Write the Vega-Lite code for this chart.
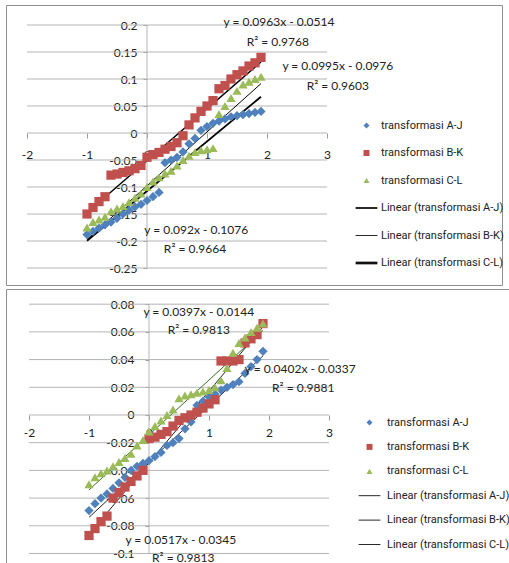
{
  "$schema": "https://vega.github.io/schema/vega-lite/v6.json",
  "padding": {"left": 5, "top": 4, "right": 0, "bottom": 0},
  "background": "white",
  "spacing": 2,
  "config": {
    "view": {"stroke": "#8f8f8f", "strokeWidth": 1, "fill": "white"},
    "font": "Lato",
    "text": {"font": "Lato"},
    "axis": {"labelFont": "Lato", "labelFontSize": 12, "labelColor": "#222", "labelOverlap": false, "labelSeparation": 0, "labelFlush": false, "grid": false, "domain": false, "tickColor": "#9a9a9a"},
    "axisY": {"labelOverlap": false},
    "axisQuantitative": {"labelOverlap": false}
  },
  "datasets": {
    "topPts": [
      {"x": -1.0, "y": -0.188, "s": "transformasi A-J"}, {"x": -0.9, "y": -0.182, "s": "transformasi A-J"}, {"x": -0.8, "y": -0.176, "s": "transformasi A-J"}, {"x": -0.7, "y": -0.170, "s": "transformasi A-J"}, {"x": -0.6, "y": -0.165, "s": "transformasi A-J"}, {"x": -0.5, "y": -0.158, "s": "transformasi A-J"}, {"x": -0.4, "y": -0.150, "s": "transformasi A-J"}, {"x": -0.3, "y": -0.143, "s": "transformasi A-J"}, {"x": -0.2, "y": -0.137, "s": "transformasi A-J"}, {"x": -0.1, "y": -0.132, "s": "transformasi A-J"}, {"x": 0.0, "y": -0.125, "s": "transformasi A-J"}, {"x": 0.1, "y": -0.118, "s": "transformasi A-J"}, {"x": 0.2, "y": -0.110, "s": "transformasi A-J"}, {"x": 0.3, "y": -0.055, "s": "transformasi A-J"}, {"x": 0.4, "y": -0.050, "s": "transformasi A-J"}, {"x": 0.5, "y": -0.045, "s": "transformasi A-J"}, {"x": 0.6, "y": -0.035, "s": "transformasi A-J"}, {"x": 0.7, "y": -0.020, "s": "transformasi A-J"}, {"x": 0.8, "y": -0.010, "s": "transformasi A-J"}, {"x": 0.9, "y": 0.005, "s": "transformasi A-J"}, {"x": 1.0, "y": 0.012, "s": "transformasi A-J"}, {"x": 1.1, "y": 0.018, "s": "transformasi A-J"}, {"x": 1.2, "y": 0.022, "s": "transformasi A-J"}, {"x": 1.3, "y": 0.026, "s": "transformasi A-J"}, {"x": 1.4, "y": 0.030, "s": "transformasi A-J"}, {"x": 1.5, "y": 0.032, "s": "transformasi A-J"}, {"x": 1.6, "y": 0.034, "s": "transformasi A-J"}, {"x": 1.7, "y": 0.036, "s": "transformasi A-J"}, {"x": 1.8, "y": 0.038, "s": "transformasi A-J"}, {"x": 1.9, "y": 0.040, "s": "transformasi A-J"},
      {"x": -1.0, "y": -0.150, "s": "transformasi B-K"}, {"x": -0.9, "y": -0.138, "s": "transformasi B-K"}, {"x": -0.8, "y": -0.127, "s": "transformasi B-K"}, {"x": -0.7, "y": -0.118, "s": "transformasi B-K"}, {"x": -0.6, "y": -0.078, "s": "transformasi B-K"}, {"x": -0.5, "y": -0.076, "s": "transformasi B-K"}, {"x": -0.4, "y": -0.073, "s": "transformasi B-K"}, {"x": -0.3, "y": -0.070, "s": "transformasi B-K"}, {"x": -0.2, "y": -0.066, "s": "transformasi B-K"}, {"x": -0.1, "y": -0.060, "s": "transformasi B-K"}, {"x": 0.0, "y": -0.045, "s": "transformasi B-K"}, {"x": 0.1, "y": -0.040, "s": "transformasi B-K"}, {"x": 0.2, "y": -0.036, "s": "transformasi B-K"}, {"x": 0.3, "y": -0.030, "s": "transformasi B-K"}, {"x": 0.4, "y": -0.025, "s": "transformasi B-K"}, {"x": 0.5, "y": -0.018, "s": "transformasi B-K"}, {"x": 0.6, "y": -0.005, "s": "transformasi B-K"}, {"x": 0.7, "y": 0.015, "s": "transformasi B-K"}, {"x": 0.8, "y": 0.028, "s": "transformasi B-K"}, {"x": 0.9, "y": 0.040, "s": "transformasi B-K"}, {"x": 1.0, "y": 0.050, "s": "transformasi B-K"}, {"x": 1.1, "y": 0.060, "s": "transformasi B-K"}, {"x": 1.2, "y": 0.082, "s": "transformasi B-K"}, {"x": 1.3, "y": 0.088, "s": "transformasi B-K"}, {"x": 1.4, "y": 0.100, "s": "transformasi B-K"}, {"x": 1.5, "y": 0.108, "s": "transformasi B-K"}, {"x": 1.6, "y": 0.115, "s": "transformasi B-K"}, {"x": 1.7, "y": 0.124, "s": "transformasi B-K"}, {"x": 1.8, "y": 0.130, "s": "transformasi B-K"}, {"x": 1.9, "y": 0.140, "s": "transformasi B-K"},
      {"x": -1.0, "y": -0.175, "s": "transformasi C-L"}, {"x": -0.9, "y": -0.165, "s": "transformasi C-L"}, {"x": -0.8, "y": -0.160, "s": "transformasi C-L"}, {"x": -0.7, "y": -0.155, "s": "transformasi C-L"}, {"x": -0.6, "y": -0.145, "s": "transformasi C-L"}, {"x": -0.5, "y": -0.140, "s": "transformasi C-L"}, {"x": -0.4, "y": -0.135, "s": "transformasi C-L"}, {"x": -0.3, "y": -0.128, "s": "transformasi C-L"}, {"x": -0.2, "y": -0.120, "s": "transformasi C-L"}, {"x": -0.1, "y": -0.112, "s": "transformasi C-L"}, {"x": 0.0, "y": -0.100, "s": "transformasi C-L"}, {"x": 0.1, "y": -0.090, "s": "transformasi C-L"}, {"x": 0.2, "y": -0.082, "s": "transformasi C-L"}, {"x": 0.3, "y": -0.075, "s": "transformasi C-L"}, {"x": 0.4, "y": -0.070, "s": "transformasi C-L"}, {"x": 0.5, "y": -0.060, "s": "transformasi C-L"}, {"x": 0.6, "y": -0.050, "s": "transformasi C-L"}, {"x": 0.7, "y": -0.042, "s": "transformasi C-L"}, {"x": 0.8, "y": -0.035, "s": "transformasi C-L"}, {"x": 0.9, "y": -0.032, "s": "transformasi C-L"}, {"x": 1.0, "y": -0.030, "s": "transformasi C-L"}, {"x": 1.1, "y": -0.028, "s": "transformasi C-L"}, {"x": 1.2, "y": 0.035, "s": "transformasi C-L"}, {"x": 1.3, "y": 0.050, "s": "transformasi C-L"}, {"x": 1.4, "y": 0.065, "s": "transformasi C-L"}, {"x": 1.5, "y": 0.078, "s": "transformasi C-L"}, {"x": 1.6, "y": 0.090, "s": "transformasi C-L"}, {"x": 1.7, "y": 0.095, "s": "transformasi C-L"}, {"x": 1.8, "y": 0.100, "s": "transformasi C-L"}, {"x": 1.9, "y": 0.104, "s": "transformasi C-L"}
    ],
    "botPts": [
      {"x": -1.0, "y": -0.069, "s": "transformasi A-J"}, {"x": -0.9, "y": -0.064, "s": "transformasi A-J"}, {"x": -0.8, "y": -0.060, "s": "transformasi A-J"}, {"x": -0.7, "y": -0.057, "s": "transformasi A-J"}, {"x": -0.6, "y": -0.053, "s": "transformasi A-J"}, {"x": -0.5, "y": -0.049, "s": "transformasi A-J"}, {"x": -0.4, "y": -0.045, "s": "transformasi A-J"}, {"x": -0.3, "y": -0.040, "s": "transformasi A-J"}, {"x": -0.2, "y": -0.037, "s": "transformasi A-J"}, {"x": -0.1, "y": -0.035, "s": "transformasi A-J"}, {"x": 0.0, "y": -0.033, "s": "transformasi A-J"}, {"x": 0.1, "y": -0.030, "s": "transformasi A-J"}, {"x": 0.2, "y": -0.027, "s": "transformasi A-J"}, {"x": 0.3, "y": -0.022, "s": "transformasi A-J"}, {"x": 0.4, "y": -0.020, "s": "transformasi A-J"}, {"x": 0.5, "y": -0.017, "s": "transformasi A-J"}, {"x": 0.6, "y": -0.010, "s": "transformasi A-J"}, {"x": 0.7, "y": -0.005, "s": "transformasi A-J"}, {"x": 0.8, "y": 0.007, "s": "transformasi A-J"}, {"x": 0.9, "y": 0.010, "s": "transformasi A-J"}, {"x": 1.0, "y": 0.013, "s": "transformasi A-J"}, {"x": 1.1, "y": 0.015, "s": "transformasi A-J"}, {"x": 1.2, "y": 0.018, "s": "transformasi A-J"}, {"x": 1.3, "y": 0.020, "s": "transformasi A-J"}, {"x": 1.4, "y": 0.022, "s": "transformasi A-J"}, {"x": 1.5, "y": 0.024, "s": "transformasi A-J"}, {"x": 1.6, "y": 0.030, "s": "transformasi A-J"}, {"x": 1.7, "y": 0.035, "s": "transformasi A-J"}, {"x": 1.8, "y": 0.040, "s": "transformasi A-J"}, {"x": 1.9, "y": 0.046, "s": "transformasi A-J"},
      {"x": -1.0, "y": -0.087, "s": "transformasi B-K"}, {"x": -0.9, "y": -0.082, "s": "transformasi B-K"}, {"x": -0.8, "y": -0.077, "s": "transformasi B-K"}, {"x": -0.7, "y": -0.073, "s": "transformasi B-K"}, {"x": -0.6, "y": -0.060, "s": "transformasi B-K"}, {"x": -0.5, "y": -0.056, "s": "transformasi B-K"}, {"x": -0.4, "y": -0.052, "s": "transformasi B-K"}, {"x": -0.3, "y": -0.048, "s": "transformasi B-K"}, {"x": -0.2, "y": -0.044, "s": "transformasi B-K"}, {"x": -0.1, "y": -0.040, "s": "transformasi B-K"}, {"x": 0.0, "y": -0.017, "s": "transformasi B-K"}, {"x": 0.1, "y": -0.016, "s": "transformasi B-K"}, {"x": 0.2, "y": -0.014, "s": "transformasi B-K"}, {"x": 0.3, "y": -0.012, "s": "transformasi B-K"}, {"x": 0.4, "y": -0.008, "s": "transformasi B-K"}, {"x": 0.5, "y": -0.004, "s": "transformasi B-K"}, {"x": 0.6, "y": -0.002, "s": "transformasi B-K"}, {"x": 0.7, "y": 0.000, "s": "transformasi B-K"}, {"x": 0.8, "y": 0.002, "s": "transformasi B-K"}, {"x": 0.9, "y": 0.005, "s": "transformasi B-K"}, {"x": 1.0, "y": 0.008, "s": "transformasi B-K"}, {"x": 1.1, "y": 0.011, "s": "transformasi B-K"}, {"x": 1.2, "y": 0.039, "s": "transformasi B-K"}, {"x": 1.3, "y": 0.039, "s": "transformasi B-K"}, {"x": 1.4, "y": 0.039, "s": "transformasi B-K"}, {"x": 1.5, "y": 0.040, "s": "transformasi B-K"}, {"x": 1.6, "y": 0.052, "s": "transformasi B-K"}, {"x": 1.7, "y": 0.055, "s": "transformasi B-K"}, {"x": 1.8, "y": 0.058, "s": "transformasi B-K"}, {"x": 1.9, "y": 0.066, "s": "transformasi B-K"},
      {"x": -1.0, "y": -0.050, "s": "transformasi C-L"}, {"x": -0.9, "y": -0.045, "s": "transformasi C-L"}, {"x": -0.8, "y": -0.042, "s": "transformasi C-L"}, {"x": -0.7, "y": -0.040, "s": "transformasi C-L"}, {"x": -0.6, "y": -0.037, "s": "transformasi C-L"}, {"x": -0.5, "y": -0.034, "s": "transformasi C-L"}, {"x": -0.4, "y": -0.031, "s": "transformasi C-L"}, {"x": -0.3, "y": -0.028, "s": "transformasi C-L"}, {"x": -0.2, "y": -0.022, "s": "transformasi C-L"}, {"x": -0.1, "y": -0.018, "s": "transformasi C-L"}, {"x": 0.0, "y": -0.012, "s": "transformasi C-L"}, {"x": 0.1, "y": -0.008, "s": "transformasi C-L"}, {"x": 0.2, "y": -0.004, "s": "transformasi C-L"}, {"x": 0.3, "y": 0.000, "s": "transformasi C-L"}, {"x": 0.4, "y": 0.004, "s": "transformasi C-L"}, {"x": 0.5, "y": 0.012, "s": "transformasi C-L"}, {"x": 0.6, "y": 0.014, "s": "transformasi C-L"}, {"x": 0.7, "y": 0.015, "s": "transformasi C-L"}, {"x": 0.8, "y": 0.016, "s": "transformasi C-L"}, {"x": 0.9, "y": 0.017, "s": "transformasi C-L"}, {"x": 1.0, "y": 0.018, "s": "transformasi C-L"}, {"x": 1.1, "y": 0.020, "s": "transformasi C-L"}, {"x": 1.2, "y": 0.025, "s": "transformasi C-L"}, {"x": 1.3, "y": 0.034, "s": "transformasi C-L"}, {"x": 1.4, "y": 0.045, "s": "transformasi C-L"}, {"x": 1.5, "y": 0.052, "s": "transformasi C-L"}, {"x": 1.6, "y": 0.056, "s": "transformasi C-L"}, {"x": 1.7, "y": 0.060, "s": "transformasi C-L"}, {"x": 1.8, "y": 0.063, "s": "transformasi C-L"}, {"x": 1.9, "y": 0.066, "s": "transformasi C-L"}
    ],
    "topLines": [
      {"x": -1, "y": -0.1996, "s": "Linear (transformasi A-J)"}, {"x": 1.9, "y": 0.0672, "s": "Linear (transformasi A-J)"},
      {"x": -1, "y": -0.1477, "s": "Linear (transformasi B-K)"}, {"x": 1.9, "y": 0.1316, "s": "Linear (transformasi B-K)"},
      {"x": -1, "y": -0.1971, "s": "Linear (transformasi C-L)"}, {"x": 1.9, "y": 0.0915, "s": "Linear (transformasi C-L)"}
    ],
    "botLines": [
      {"x": -1, "y": -0.0739, "s": "Linear (transformasi A-J)"}, {"x": 1.9, "y": 0.0427, "s": "Linear (transformasi A-J)"},
      {"x": -1, "y": -0.0862, "s": "Linear (transformasi B-K)"}, {"x": 1.9, "y": 0.0637, "s": "Linear (transformasi B-K)"},
      {"x": -1, "y": -0.0541, "s": "Linear (transformasi C-L)"}, {"x": 1.9, "y": 0.0610, "s": "Linear (transformasi C-L)"}
    ],
    "topLab": [
      {"x": 2.2, "y": 0.2056, "t": "y = 0.0963x - 0.0514"},
      {"x": 2.18, "y": 0.1685, "t": "R² = 0.9768"},
      {"x": 3.18, "y": 0.124, "t": "y = 0.0995x - 0.0976"},
      {"x": 3.18, "y": 0.087, "t": "R² = 0.9603"},
      {"x": 0.82, "y": -0.1796, "t": "y = 0.092x - 0.1076"},
      {"x": 0.8, "y": -0.2148, "t": "R² = 0.9664"}
    ],
    "botLab": [
      {"x": 0.83, "y": 0.0744, "t": "y = 0.0397x - 0.0144"},
      {"x": 0.83, "y": 0.0614, "t": "R² = 0.9813"},
      {"x": 2.52, "y": 0.0332, "t": "y = 0.0402x - 0.0337"},
      {"x": 2.57, "y": 0.0195, "t": "R² = 0.9881"},
      {"x": 0.53, "y": -0.0903, "t": "y = 0.0517x - 0.0345"},
      {"x": 0.57, "y": -0.1032, "t": "R² = 0.9813"}
    ],
    "topGrid": [{"v": -0.25}, {"v": -0.2}, {"v": -0.15}, {"v": -0.1}, {"v": -0.05}, {"v": 0}, {"v": 0.05}, {"v": 0.1}, {"v": 0.15}, {"v": 0.2}],
    "botGrid": [{"v": -0.1}, {"v": -0.08}, {"v": -0.06}, {"v": -0.04}, {"v": -0.02}, {"v": 0}, {"v": 0.02}, {"v": 0.04}, {"v": 0.06}, {"v": 0.08}]
  },
  "resolve": {
    "scale": {"color": "independent", "shape": "independent", "stroke": "independent", "strokeWidth": "independent", "x": "independent", "y": "independent"},
    "legend": {"color": "independent", "shape": "independent"}
  },
  "vconcat": [
    {
      "width": 496,
      "height": 280,
      "layer": [
        {
          "data": {"name": "topGrid"},
          "mark": {"type": "rule", "color": "#b5b5b5", "strokeWidth": 1},
          "encoding": {
            "y": {"field": "v", "type": "quantitative", "title": null, "scale": {"domain": [-0.28148, 0.23704], "nice": false, "zero": false}, "axis": {"orient": "left", "offset": -141, "values": [-0.25, -0.2, -0.15, -0.1, -0.05, 0, 0.05, 0.1, 0.15, 0.2], "labelExpr": "toString(datum.value)", "labelOverlap": false, "labelSeparation": 0, "labelFlush": false, "ticks": true, "tickSize": 4, "labelPadding": 6, "title": null}},
            "x": {"datum": -2, "type": "quantitative", "title": null, "scale": {"domain": [-2.35, 5.9167], "nice": false, "zero": false}, "axis": {"orient": "bottom", "offset": -152, "values": [-2, -1, 0, 1, 2, 3], "labelExpr": "toString(datum.value)", "labelOverlap": false, "labelFlush": false, "ticks": true, "tickSize": 5, "labelPadding": 11, "title": null}},
            "x2": {"datum": 3}
          }
        },
        {
          "data": {"values": [{}]},
          "mark": {"type": "rule", "color": "#b5b5b5", "strokeWidth": 1},
          "encoding": {
            "x": {"datum": 0, "type": "quantitative", "title": null, "axis": {"orient": "bottom", "offset": -152, "values": [-2, -1, 0, 1, 2, 3], "labelExpr": "toString(datum.value)", "labelOverlap": false, "labelFlush": false, "ticks": true, "tickSize": 5, "labelPadding": 11, "title": null}},
            "y": {"datum": -0.25, "type": "quantitative", "title": null, "axis": {"orient": "left", "offset": -141, "values": [-0.25, -0.2, -0.15, -0.1, -0.05, 0, 0.05, 0.1, 0.15, 0.2], "labelExpr": "toString(datum.value)", "labelOverlap": false, "labelSeparation": 0, "labelFlush": false, "ticks": true, "tickSize": 4, "labelPadding": 6, "title": null}},
            "y2": {"datum": 0.2}
          }
        },
        {
          "data": {"name": "topLines"},
          "mark": {"type": "line"},
          "encoding": {
            "x": {"field": "x", "type": "quantitative", "title": null, "axis": {"orient": "bottom", "offset": -152, "values": [-2, -1, 0, 1, 2, 3], "labelExpr": "toString(datum.value)", "labelOverlap": false, "labelFlush": false, "ticks": true, "tickSize": 5, "labelPadding": 11, "title": null}},
            "y": {"field": "y", "type": "quantitative", "title": null, "axis": {"orient": "left", "offset": -141, "values": [-0.25, -0.2, -0.15, -0.1, -0.05, 0, 0.05, 0.1, 0.15, 0.2], "labelExpr": "toString(datum.value)", "labelOverlap": false, "labelSeparation": 0, "labelFlush": false, "ticks": true, "tickSize": 4, "labelPadding": 6, "title": null}},
            "stroke": {"field": "s", "type": "nominal", "scale": {"domain": ["Linear (transformasi A-J)", "Linear (transformasi B-K)", "Linear (transformasi C-L)"], "range": ["#000000", "#000000", "#000000"]}, "legend": null},
            "strokeWidth": {"field": "s", "type": "nominal", "scale": {"domain": ["Linear (transformasi A-J)", "Linear (transformasi B-K)", "Linear (transformasi C-L)"], "range": [1.8, 1, 2.3]}, "legend": null}
          }
        },
        {
          "data": {"name": "topPts"},
          "mark": {"type": "point", "filled": true, "size": 85, "opacity": 1},
          "encoding": {
            "x": {"field": "x", "type": "quantitative", "title": null, "axis": {"orient": "bottom", "offset": -152, "values": [-2, -1, 0, 1, 2, 3], "labelExpr": "toString(datum.value)", "labelOverlap": false, "labelFlush": false, "ticks": true, "tickSize": 5, "labelPadding": 11, "title": null}},
            "y": {"field": "y", "type": "quantitative", "title": null, "axis": {"orient": "left", "offset": -141, "values": [-0.25, -0.2, -0.15, -0.1, -0.05, 0, 0.05, 0.1, 0.15, 0.2], "labelExpr": "toString(datum.value)", "labelOverlap": false, "labelSeparation": 0, "labelFlush": false, "ticks": true, "tickSize": 4, "labelPadding": 6, "title": null}},
            "color": {"field": "s", "type": "nominal",
              "scale": {"domain": ["transformasi A-J", "transformasi B-K", "transformasi C-L", "Linear (transformasi A-J)", "Linear (transformasi B-K)", "Linear (transformasi C-L)"], "range": ["#4F81BD", "#C0504D", "#9BBB59", "#111111", "#111111", "#111111"]},
              "legend": {"title": null, "orient": "none", "legendX": 355, "legendY": 115, "direction": "vertical", "symbolSize": 36, "symbolStrokeWidth": 0, "labelFont": "Roboto", "labelFontSize": 11, "labelColor": "#222", "rowPadding": 15.5, "labelOffset": 9, "padding": 0, "labelLimit": 300, "encode": {"symbols": {"update": {"size": {"value": 36}}}}}},
            "shape": {"field": "s", "type": "nominal",
              "scale": {"domain": ["transformasi A-J", "transformasi B-K", "transformasi C-L", "Linear (transformasi A-J)", "Linear (transformasi B-K)", "Linear (transformasi C-L)"], "range": ["diamond", "square", "triangle-up", "M-3.63,-0.3H3.63V0.3H-3.63Z", "M-3.63,-0.15H3.63V0.15H-3.63Z", "M-3.63,-0.45H3.63V0.45H-3.63Z"]},
              "legend": {"title": null, "orient": "none", "legendX": 355, "legendY": 115, "direction": "vertical", "symbolSize": 36, "symbolStrokeWidth": 0, "labelFont": "Roboto", "labelFontSize": 11, "labelColor": "#222", "rowPadding": 15.5, "labelOffset": 9, "padding": 0, "labelLimit": 300, "encode": {"symbols": {"update": {"size": {"value": 36}}}}}}
          }
        },
        {
          "data": {"name": "topLab"},
          "mark": {"type": "text", "font": "Lato", "fontSize": 12, "color": "#222", "align": "center", "baseline": "middle"},
          "encoding": {
            "x": {"field": "x", "type": "quantitative", "title": null, "axis": {"orient": "bottom", "offset": -152, "values": [-2, -1, 0, 1, 2, 3], "labelExpr": "toString(datum.value)", "labelOverlap": false, "labelFlush": false, "ticks": true, "tickSize": 5, "labelPadding": 11, "title": null}},
            "y": {"field": "y", "type": "quantitative", "title": null, "axis": {"orient": "left", "offset": -141, "values": [-0.25, -0.2, -0.15, -0.1, -0.05, 0, 0.05, 0.1, 0.15, 0.2], "labelExpr": "toString(datum.value)", "labelOverlap": false, "labelSeparation": 0, "labelFlush": false, "ticks": true, "tickSize": 4, "labelPadding": 6, "title": null}},
            "text": {"field": "t", "type": "nominal"}
          }
        }
      ]
    },
    {
      "width": 504,
      "height": 277,
      "layer": [
        {
          "data": {"name": "botGrid"},
          "mark": {"type": "rule", "color": "#b5b5b5", "strokeWidth": 1},
          "encoding": {
            "y": {"field": "v", "type": "quantitative", "title": null, "scale": {"domain": [-0.10903, 0.09097], "nice": false, "zero": false}, "axis": {"orient": "left", "offset": -143, "values": [-0.1, -0.08, -0.06, -0.04, -0.02, 0, 0.02, 0.04, 0.06, 0.08], "labelExpr": "toString(datum.value)", "labelOverlap": false, "labelSeparation": 0, "labelFlush": false, "ticks": true, "tickSize": 4, "labelPadding": 11, "title": null}},
            "x": {"datum": -2, "type": "quantitative", "title": null, "scale": {"domain": [-2.3833, 6.0167], "nice": false, "zero": false}, "axis": {"orient": "bottom", "offset": -151, "values": [-2, -1, 0, 1, 2, 3], "labelExpr": "toString(datum.value)", "labelOverlap": false, "labelFlush": false, "ticks": true, "tickSize": 5, "labelPadding": 7, "title": null}},
            "x2": {"datum": 3}
          }
        },
        {
          "data": {"values": [{}]},
          "mark": {"type": "rule", "color": "#b5b5b5", "strokeWidth": 1},
          "encoding": {
            "x": {"datum": 0, "type": "quantitative", "title": null, "axis": {"orient": "bottom", "offset": -151, "values": [-2, -1, 0, 1, 2, 3], "labelExpr": "toString(datum.value)", "labelOverlap": false, "labelFlush": false, "ticks": true, "tickSize": 5, "labelPadding": 7, "title": null}},
            "y": {"datum": -0.1, "type": "quantitative", "title": null, "axis": {"orient": "left", "offset": -143, "values": [-0.1, -0.08, -0.06, -0.04, -0.02, 0, 0.02, 0.04, 0.06, 0.08], "labelExpr": "toString(datum.value)", "labelOverlap": false, "labelSeparation": 0, "labelFlush": false, "ticks": true, "tickSize": 4, "labelPadding": 11, "title": null}},
            "y2": {"datum": 0.08}
          }
        },
        {
          "data": {"name": "botLines"},
          "mark": {"type": "line"},
          "encoding": {
            "x": {"field": "x", "type": "quantitative", "title": null, "axis": {"orient": "bottom", "offset": -151, "values": [-2, -1, 0, 1, 2, 3], "labelExpr": "toString(datum.value)", "labelOverlap": false, "labelFlush": false, "ticks": true, "tickSize": 5, "labelPadding": 7, "title": null}},
            "y": {"field": "y", "type": "quantitative", "title": null, "axis": {"orient": "left", "offset": -143, "values": [-0.1, -0.08, -0.06, -0.04, -0.02, 0, 0.02, 0.04, 0.06, 0.08], "labelExpr": "toString(datum.value)", "labelOverlap": false, "labelSeparation": 0, "labelFlush": false, "ticks": true, "tickSize": 4, "labelPadding": 11, "title": null}},
            "stroke": {"field": "s", "type": "nominal", "scale": {"domain": ["Linear (transformasi A-J)", "Linear (transformasi B-K)", "Linear (transformasi C-L)"], "range": ["#222222", "#222222", "#3d6b1e"]}, "legend": null},
            "strokeWidth": {"field": "s", "type": "nominal", "scale": {"domain": ["Linear (transformasi A-J)", "Linear (transformasi B-K)", "Linear (transformasi C-L)"], "range": [1, 1, 1]}, "legend": null}
          }
        },
        {
          "data": {"name": "botPts"},
          "mark": {"type": "point", "filled": true, "size": 85, "opacity": 1},
          "encoding": {
            "x": {"field": "x", "type": "quantitative", "title": null, "axis": {"orient": "bottom", "offset": -151, "values": [-2, -1, 0, 1, 2, 3], "labelExpr": "toString(datum.value)", "labelOverlap": false, "labelFlush": false, "ticks": true, "tickSize": 5, "labelPadding": 7, "title": null}},
            "y": {"field": "y", "type": "quantitative", "title": null, "axis": {"orient": "left", "offset": -143, "values": [-0.1, -0.08, -0.06, -0.04, -0.02, 0, 0.02, 0.04, 0.06, 0.08], "labelExpr": "toString(datum.value)", "labelOverlap": false, "labelSeparation": 0, "labelFlush": false, "ticks": true, "tickSize": 4, "labelPadding": 11, "title": null}},
            "color": {"field": "s", "type": "nominal",
              "scale": {"domain": ["transformasi A-J", "transformasi B-K", "transformasi C-L", "Linear (transformasi A-J)", "Linear (transformasi B-K)", "Linear (transformasi C-L)"], "range": ["#4F81BD", "#C0504D", "#9BBB59", "#111111", "#111111", "#111111"]},
              "legend": {"title": null, "orient": "none", "legendX": 358, "legendY": 128, "direction": "vertical", "symbolSize": 36, "symbolStrokeWidth": 0, "labelFont": "Roboto", "labelFontSize": 11, "labelColor": "#222", "rowPadding": 12.4, "labelOffset": 12, "padding": 0, "labelLimit": 300, "encode": {"symbols": {"update": {"size": {"value": 36}}}}}},
            "shape": {"field": "s", "type": "nominal",
              "scale": {"domain": ["transformasi A-J", "transformasi B-K", "transformasi C-L", "Linear (transformasi A-J)", "Linear (transformasi B-K)", "Linear (transformasi C-L)"], "range": ["diamond", "square", "triangle-up", "M-3.63,-0.15H3.63V0.15H-3.63Z", "M-3.63,-0.15H3.63V0.15H-3.63Z", "M-3.63,-0.15H3.63V0.15H-3.63Z"]},
              "legend": {"title": null, "orient": "none", "legendX": 358, "legendY": 128, "direction": "vertical", "symbolSize": 36, "symbolStrokeWidth": 0, "labelFont": "Roboto", "labelFontSize": 11, "labelColor": "#222", "rowPadding": 12.4, "labelOffset": 12, "padding": 0, "labelLimit": 300, "encode": {"symbols": {"update": {"size": {"value": 36}}}}}}
          }
        },
        {
          "data": {"name": "botLab"},
          "mark": {"type": "text", "font": "Lato", "fontSize": 12, "color": "#222", "align": "center", "baseline": "middle"},
          "encoding": {
            "x": {"field": "x", "type": "quantitative", "title": null, "axis": {"orient": "bottom", "offset": -151, "values": [-2, -1, 0, 1, 2, 3], "labelExpr": "toString(datum.value)", "labelOverlap": false, "labelFlush": false, "ticks": true, "tickSize": 5, "labelPadding": 7, "title": null}},
            "y": {"field": "y", "type": "quantitative", "title": null, "axis": {"orient": "left", "offset": -143, "values": [-0.1, -0.08, -0.06, -0.04, -0.02, 0, 0.02, 0.04, 0.06, 0.08], "labelExpr": "toString(datum.value)", "labelOverlap": false, "labelSeparation": 0, "labelFlush": false, "ticks": true, "tickSize": 4, "labelPadding": 11, "title": null}},
            "text": {"field": "t", "type": "nominal"}
          }
        }
      ]
    }
  ]
}
